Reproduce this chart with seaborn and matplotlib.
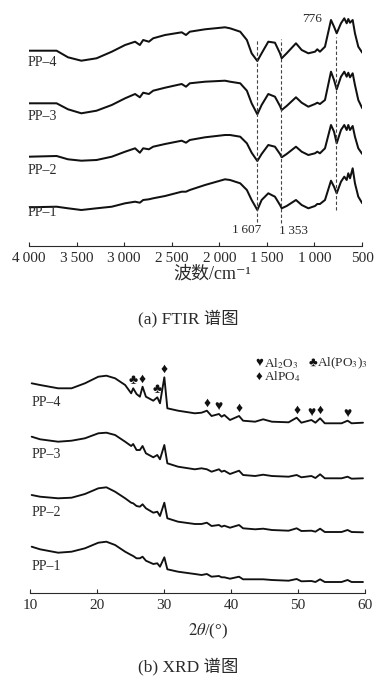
import numpy as np
import pandas as pd
import matplotlib
matplotlib.use("Agg")
import matplotlib.pyplot as plt
import seaborn as sns

# ---- FTIR (a) ----
sample_names = ["PP-1", "PP-2", "PP-3", "PP-4"]
sample_labels = ["PP\u20131", "PP\u20132", "PP\u20133", "PP\u20134"]

wavenumber = [4000, 3710, 3590, 3450, 3290, 3130, 2990, 2885, 2835, 2800, 2740, 2695, 2570, 2395, 2350, 2310,
              2150, 1940, 1887, 1780, 1710, 1660, 1600, 1555, 1485, 1415, 1362, 1344, 1292, 1194, 1134, 1064,
              994, 970, 942, 889, 826, 794, 766, 721, 686, 661, 644, 626, 598, 574, 539, 497]
ftir_pp1 = [38.7, 39.3, 37.7, 36, 37.7, 39.3, 42.7, 44.3, 43.3, 46, 46.7, 47.7, 50, 54.3, 54.3, 56,
            61, 66.7, 66, 62.7, 56, 46, 36, 46, 52.7, 49.3, 41, 37.7, 40, 46, 41, 37.7,
            40, 42, 42, 46, 65.3, 59.3, 52.7, 64.3, 69.3, 66, 72.7, 67.7, 77.7, 62.7, 49.3, 42.7]
ftir_pp2 = [89.3, 90, 86.7, 85.3, 86, 89.3, 94.3, 97.7, 93.3, 97.7, 96.7, 99.3, 102, 105.3, 103.3, 106,
            108.7, 111, 111, 109.3, 102.7, 93.3, 85, 92, 101, 99.3, 92, 88.7, 92, 99.3, 94.3, 91,
            92.7, 94.3, 92.7, 97.7, 121, 114.3, 102.7, 116, 121, 116, 121, 116, 120, 109.3, 97.7, 92]
ftir_pp3 = [142.7, 142.7, 136.7, 132.7, 135.3, 141, 147.7, 152, 148.7, 153.3, 152, 155.3, 158.3, 162, 159.3, 162.7,
            164.3, 165.3, 164.3, 162.7, 155.3, 142.7, 131.7, 141, 152, 149.3, 140, 136, 140, 148.7, 143.3, 139.3,
            142, 143.3, 142, 146, 174.3, 166, 156.7, 169.3, 174.3, 169.3, 173.3, 168.7, 172.7, 161, 146, 137.7]
ftir_pp4 = [195.3, 195.3, 188.7, 185.3, 187.7, 194.3, 201, 204.3, 201, 206, 204.3, 207.7, 211, 213.7, 211, 214.3,
            216.7, 218.7, 217.7, 214.3, 206, 192.7, 185, 192.7, 204.3, 203.3, 192.7, 187.7, 192.7, 202.7, 196, 192.7,
            194.3, 196.7, 194.3, 199.3, 226, 219.3, 212.7, 222.7, 227.7, 222.7, 227, 223.3, 226, 212.7, 199.3, 193.3]
ftir_label_level = [34, 75, 129, 183]

# marked bands (dashed lines): position, bottom, top
band_pos = [1607, 1353, 776]
band_bottom = [24.3, 23.3, 36]
band_top = [206.7, 206.7, 209.3]
band_text = ["1\u2009607", "1\u2009353", "776"]
band_text_offset = [(-7, -6), (9, -6), (-17, 13)]

ftir_ticks = [4000, 3500, 3000, 2500, 2000, 1500, 1000, 500]

# ---- XRD (b) ----
two_theta = [10.25, 11.5, 14.2, 16.2, 18.2, 20.2, 21.4, 22.7, 24.2, 25.1, 25.4, 25.9, 26.4, 26.8, 27.3, 28.4,
             29.0, 29.4, 30.05, 30.5, 32.1, 34.6, 35.6, 36.4, 37.1, 38.2, 38.6, 39.0, 39.85, 41.2, 41.8, 43.6,
             44.8, 46.1, 48.6, 49.8, 50.5, 52.0, 52.6, 53.3, 54.0, 56.5, 57.4, 58.0, 59.7]
xrd_pp1 = [46.3, 43.7, 40.3, 41.3, 44.7, 50.3, 51.3, 48, 41.3, 38, 37, 34.7, 34.7, 36.3, 32.3, 29,
           29.7, 26.3, 35.7, 23.7, 21.3, 19, 18, 19, 16.3, 17, 15.7, 15.7, 14.3, 16.3, 13.7, 13.7,
           13.7, 13, 12.3, 14, 11.7, 12, 11, 13.7, 11, 11, 13, 11, 11]
xrd_pp2 = [98, 96.3, 94.7, 95.3, 99, 104.7, 105.7, 101.3, 94.7, 90.3, 89.7, 87, 86.3, 88.7, 84.7, 80.3,
           81.3, 77, 90.3, 74.7, 71.3, 69, 69, 70.3, 67, 68, 66.3, 67.3, 65.3, 68, 64.7, 63.7,
           64.3, 63, 62.3, 64.7, 62, 62.3, 61.3, 64.3, 61, 61, 63, 61, 60.7]
xrd_pp3 = [156.3, 153.7, 151.3, 152.3, 154.7, 159.7, 160.3, 158, 151.3, 147, 149, 143, 143, 147, 139.7, 135.7,
           138, 133.7, 148, 129.7, 126.3, 123.7, 124.7, 123.7, 121.3, 123.7, 121.3, 122.3, 119, 122.3, 118, 117,
           118.3, 117, 116.3, 118, 115.7, 117, 115, 118.7, 114.7, 114.7, 116.3, 114.3, 114.7]
xrd_pp4 = [209.7, 208, 204.7, 204.7, 209.7, 216.3, 217.3, 214.7, 208, 199.7, 204.7, 199, 196.3, 206.3, 196.3, 192.3,
           195.7, 189.7, 215.7, 184.7, 182.3, 179.7, 180.3, 182.3, 177, 179, 176.3, 178, 173, 177, 172.3, 171.3,
           173.7, 171.3, 170.7, 175.3, 170.3, 173, 170.3, 174.7, 169.7, 169.7, 172.3, 169.7, 170.3]
xrd_label_level = [26, 80, 138, 191]

# phase peaks marked on PP-4
peak_pos = [25.4, 26.8, 29.0, 30.05, 36.4, 38.2, 41.2, 49.8, 52.0, 53.3, 57.4]
peak_phase = ["club", "diamond", "club", "diamond", "diamond", "heart", "diamond", "diamond", "heart", "diamond", "heart"]
phase_symbol = {"heart": "\u2665", "club": "\u2663", "diamond": "\u2666"}
phase_name = {"heart": "Al$_2$O$_3$", "club": "Al(PO$_3$)$_3$", "diamond": "AlPO$_4$"}

xrd_ticks = [10, 20, 30, 40, 50, 60]

sns.set_style("ticks")
plt.rcParams["font.family"] = ["Liberation Serif", "Noto Sans CJK SC", "DejaVu Sans"]
plt.rcParams["mathtext.fontset"] = "stix"
sym_family = ["Liberation Serif", "DejaVu Sans"]

line_color = "#111111"
text_color = "#2a2a2a"
palette = {s: line_color for s in sample_names}

ftir_df = pd.DataFrame({
    "wavenumber": wavenumber * 4,
    "signal": ftir_pp1 + ftir_pp2 + ftir_pp3 + ftir_pp4,
    "sample": np.repeat(sample_names, len(wavenumber)),
})
xrd_df = pd.DataFrame({
    "two_theta": two_theta * 4,
    "intensity": xrd_pp1 + xrd_pp2 + xrd_pp3 + xrd_pp4,
    "sample": np.repeat(sample_names, len(two_theta)),
})

fig = plt.figure(figsize=(3.77, 6.76), dpi=100)
ax1 = fig.add_axes([29 / 377, 1 - 246 / 676, 333 / 377, 246 / 676])
ax2 = fig.add_axes([30 / 377, 83 / 676, 335 / 377, 243 / 676])


def style_axis(ax):
    sns.despine(ax=ax, left=True)
    ax.set_yticks([])
    ax.set_ylabel("")
    ax.spines["bottom"].set_linewidth(0.8)
    ax.spines["bottom"].set_color(text_color)
    ax.tick_params(axis="x", direction="in", length=3, width=0.8, pad=4,
                   labelsize=11, colors=text_color)
    ax.patch.set_alpha(0)


# ---- panel (a) ----
sns.lineplot(data=ftir_df, x="wavenumber", y="signal", hue="sample", palette=palette,
             estimator=None, sort=False, legend=False, lw=1.45, ax=ax1)
ax1.set_xlim(4000, 500)
ax1.set_ylim(0, 246)
style_axis(ax1)
ax1.set_xticks(ftir_ticks)
ax1.set_xticklabels([f"{t:,}".replace(",", "\u2009") for t in ftir_ticks])
ax1.set_xlabel("波数/cm\u207b\u00b9", fontsize=13, color=text_color)
ax1.xaxis.set_label_coords(0.55, -0.08)

ax1.vlines(band_pos, band_bottom, band_top, colors="#444444", linestyles=(0, (3, 2)), lw=0.8)
for pos, lo, hi, txt, off in zip(band_pos, band_bottom, band_top, band_text, band_text_offset):
    anchor = hi if off[1] > 0 else lo
    ax1.annotate(txt, xy=(pos, anchor), xytext=off, textcoords="offset points",
                 ha="center", va="center", fontsize=9.5, color=text_color)

for lab, lev in zip(sample_labels, ftir_label_level):
    ax1.text(4020, lev, lab, ha="left", va="center", fontsize=10, color=text_color, clip_on=False)

# ---- panel (b) ----
sns.lineplot(data=xrd_df, x="two_theta", y="intensity", hue="sample", palette=palette,
             estimator=None, sort=False, legend=False, lw=1.35, ax=ax2)
ax2.set_xlim(10, 60)
ax2.set_ylim(0, 243)
style_axis(ax2)
ax2.set_xticks(xrd_ticks)
ax2.set_xlabel("$2\\theta$/(°)", fontsize=12, color=text_color)
ax2.xaxis.set_label_coords(0.53, -0.12)

pp4_peaks = np.interp(peak_pos, two_theta, xrd_pp4)
for pos, level, phase in zip(peak_pos, pp4_peaks, peak_phase):
    ax2.annotate(phase_symbol[phase], xy=(pos, level), xytext=(0, 5.5), textcoords="offset points",
                 ha="center", va="center", fontsize=10, color=line_color, family=sym_family)

for lab, lev in zip(sample_labels, xrd_label_level):
    ax2.text(10.25, lev, lab, ha="left", va="center", fontsize=10, color=text_color)

legend_pos = {"heart": (0.672, 0.946), "club": (0.832, 0.946), "diamond": (0.672, 0.889)}
for phase, (lx, ly) in legend_pos.items():
    ax2.text(lx, ly, phase_symbol[phase], transform=ax2.transAxes, ha="left", va="center",
             fontsize=9.5, color=line_color, family=sym_family)
    ax2.text(lx + 0.026, ly, phase_name[phase], transform=ax2.transAxes, ha="left", va="center",
             fontsize=9.5, color=text_color)

fig.text(188 / 377, 1 - 318 / 676, "(a) FTIR 谱图", ha="center", va="center", fontsize=12.5, color=text_color)
fig.text(188 / 377, 1 - 666 / 676, "(b) XRD 谱图", ha="center", va="center", fontsize=12.5, color=text_color)

fig.savefig("out.png", dpi=100)
